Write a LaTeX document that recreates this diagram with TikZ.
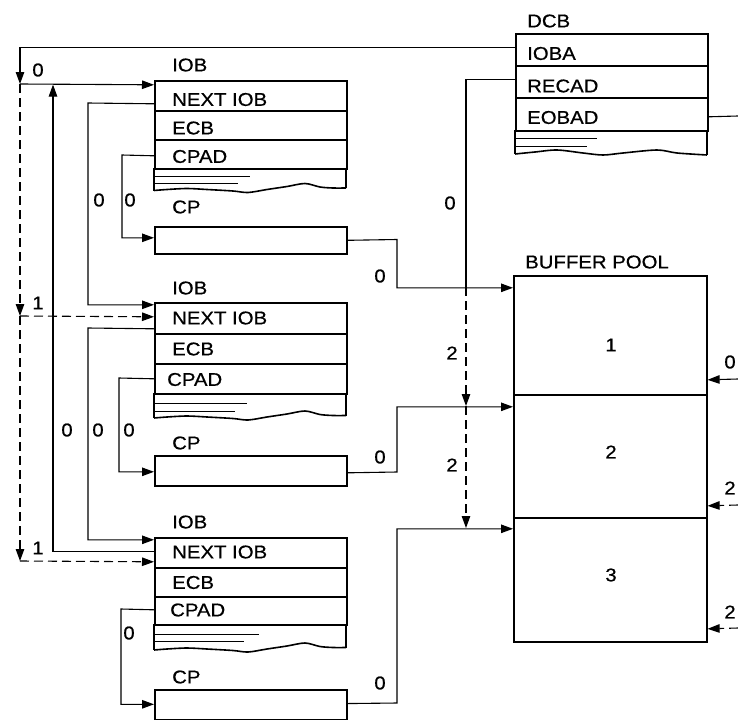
\documentclass[tikz,border=0pt]{standalone}
\usepackage{fontspec}
\setmainfont{Liberation Sans}[FakeStretch=1.1,FakeBold=0.6]
\usetikzlibrary{arrows.meta}
\begin{document}
\begin{tikzpicture}[x=1pt,y=-1pt,
  txt/.style={font=\fontsize{18.5}{21}\selectfont, inner sep=0pt},
  lbl/.style={txt, anchor=west},
  row/.style={draw, line width=1.6pt, minimum width=192pt, inner sep=0pt, anchor=north west},
  conn/.style={line width=1.1pt},
  dconn/.style={line width=1.1pt, dash pattern=on 9pt off 5pt},
  tip/.style={-{Triangle[length=12pt,width=8.5pt]}},
  thin/.style={line width=0.9pt},
  edge/.style={line width=1.6pt}]
\useasboundingbox (0,0) rectangle (738,720);

% ---------- IOB 1 ----------
\node[lbl] (h1) at (172,65) {IOB};
\node[row, minimum height=30pt] (iob1n) at (154,80) {};
\node[row, minimum height=29pt] (iob1e) at (154,110) {};
\node[row, minimum height=29pt] (iob1c) at (154,139) {};
\node[lbl] (t1n) at (172,99.5) {NEXT IOB};
\node[lbl] (t1e) at (172,128) {ECB};
\node[lbl] (t1c) at (172,156.5) {CPAD};
\draw[edge] (154,168) -- (154,190.5);
\draw[edge] (346,168) -- (346,188);
\begin{scope}[shift={(154,190.5)}]
\draw[edge] plot[smooth] coordinates {(0,0) (13,-1) (33,-2) (53,-1) (79,0.5) (94,2) (113,-1) (133,-4) (151,-7) (166,-3.5) (179,-2.5) (192,-2.5)};
\end{scope}
\draw[thin] (154,176.7) -- (250,176.7);
\draw[thin] (154,183.3) -- (238,183.3);
\node[lbl] (c1) at (172,207) {CP};
\node[row, minimum height=27pt] (cp1) at (154,226) {};

% ---------- IOB 2 ----------
\node[lbl] (h2) at (172,288) {IOB};
\node[row, minimum height=31pt] (iob2n) at (154,302) {};
\node[row, minimum height=30pt] (iob2e) at (154,333) {};
\node[row, minimum height=30pt] (iob2c) at (154,363) {};
\node[lbl] (t2n) at (172,318) {NEXT IOB};
\node[lbl] (t2e) at (172,349) {ECB};
\node[lbl] (t2c) at (167,379.5) {CPAD};
\draw[edge] (154,393) -- (154,418);
\draw[edge] (346,393) -- (346,415.5);
\begin{scope}[shift={(154,418)}]
\draw[edge] plot[smooth] coordinates {(0,0) (13,-1) (33,-2) (53,-1) (79,0.5) (94,2) (113,-1) (133,-4) (151,-7) (166,-3.5) (179,-2.5) (192,-2.5)};
\end{scope}
\draw[thin] (154,403.3) -- (247,403.3);
\draw[thin] (154,411.7) -- (235,411.7);
\node[lbl] (c2) at (172,443) {CP};
\node[row, minimum height=30pt] (cp2) at (154,455) {};

% ---------- IOB 3 ----------
\node[lbl] (h3) at (172,522) {IOB};
\node[row, minimum height=30pt] (iob3n) at (154,537) {};
\node[row, minimum height=29pt] (iob3e) at (154,567) {};
\node[row, minimum height=28pt] (iob3c) at (154,596) {};
\node[lbl] (t3n) at (172,552) {NEXT IOB};
\node[lbl] (t3e) at (172,582.5) {ECB};
\node[lbl] (t3c) at (170,610) {CPAD};
\draw[edge] (154,624) -- (154,650);
\draw[edge] (346,624) -- (346,647.5);
\begin{scope}[shift={(154,650)}]
\draw[edge] plot[smooth] coordinates {(0,0) (13,-1) (33,-2) (53,-1) (79,0.5) (94,2) (113,-1) (133,-4) (151,-7) (166,-3.5) (179,-2.5) (192,-2.5)};
\end{scope}
\draw[thin] (154,634) -- (259,634);
\draw[thin] (154,641) -- (244,641);
\node[lbl] (c3) at (172,677) {CP};
\node[row, minimum height=29.5pt] (cp3) at (154,689) {};

% ---------- DCB ----------
\node[lbl] (hd) at (527,21) {DCB};
\node[row, minimum height=32pt] (dcb1) at (515,33) {};
\node[row, minimum height=32pt] (dcb2) at (515,65) {};
\node[row, minimum height=33pt] (dcb3) at (515,97) {};
\node[lbl] (td1) at (527,53.5) {IOBA};
\node[lbl] (td2) at (527,86) {RECAD};
\node[lbl] (td3) at (527,117.5) {EOBAD};
\draw[edge] (515,130) -- (515,154);
\draw[edge] (707,130) -- (707,155);
\begin{scope}[shift={(515,154)}]
\draw[edge] plot[smooth] coordinates {(0,0) (20,-2) (42,-4) (68,-1) (88,1) (108,-1) (142,-4) (162,-1) (192,1)};
\end{scope}
\draw[thin] (515,138.3) -- (597,138.3);
\draw[thin] (515,146.7) -- (587,146.7);

% ---------- BUFFER POOL ----------
\node[lbl] (hb) at (525,262) {BUFFER POOL};
\node[row, minimum width=193pt, minimum height=119pt] (buf1) at (513,275) {};
\node[row, minimum width=193pt, minimum height=123pt] (buf2) at (513,394) {};
\node[row, minimum width=193pt, minimum height=124pt] (buf3) at (513,517) {};
\node[txt] (b1) at (611,345) {1};
\node[txt] (b2) at (611,452) {2};
\node[txt] (b3) at (611,575) {3};

% ---------- junction coordinates ----------
\coordinate (j0) at (20,84);
\coordinate (j1) at (20,316);
\coordinate (j2) at (20,561);
\coordinate (r0) at (466,287);
\coordinate (r1) at (466,406);
\coordinate (r2) at (466,528);
\coordinate (e0) at (738,116);
\coordinate (q1) at (738,379);
\coordinate (q2) at (738,505);
\coordinate (q3) at (738,628);

% ---------- connectors ----------
\draw[conn,tip] ([yshift=2pt]dcb1.west) -| (j0);
\draw[conn,tip] (j0) -- ([yshift=11pt]iob1n.west);
\draw[conn,tip] ([yshift=1pt]iob3n.west) -| (53,84.6);
\draw[conn,tip] ([yshift=-8pt]iob1n.west) -- (88,103) |- ([yshift=13.5pt]iob2n.west);
\draw[conn,tip] ([yshift=-10.5pt]iob2n.west) -- (88,328) |- ([yshift=13pt]iob3n.west);
\draw[conn,tip] ([yshift=-1.5pt]iob1c.west) -- (122,155) |- ([yshift=2.5pt]cp1.west);
\draw[conn,tip] (iob2c.west) -- (119,378) |- ([yshift=-1pt]cp2.west);
\draw[conn,tip] ([yshift=1pt]iob3c.west) -- (121,609) |- ([yshift=0.25pt]cp3.west);
\draw[conn,tip] (cp1.east) -- (397,239.5) |- ([yshift=47.5pt]buf1.west);
\draw[conn,tip] ([yshift=-2pt]cp2.east) -- (397,472) |- ([yshift=49.5pt]buf2.west);
\draw[conn,tip] ([yshift=1pt]cp3.east) -- (397,703) |- ([yshift=51pt]buf3.west);
\draw[conn] ([yshift=2pt]dcb2.west) -| (r0);
\draw[dconn,tip] (r0) -- (r1);
\draw[dconn,tip] (r1) -- (r2);
\draw[dconn,tip] (j0) -- (j1);
\draw[dconn,tip] (j1) -- ([yshift=1.5pt]iob2n.west);
\draw[dconn,tip] (j1) -- (j2);
\draw[dconn,tip] (j2) -- ([yshift=-9pt]iob3n.west);
\draw[conn] ([yshift=-2.5pt]dcb3.east) -- (e0);
\draw[conn,tip] (q1) -- ([yshift=-44.5pt]buf1.east);
\draw[dconn,tip] (q2) -- ([yshift=-49.5pt]buf2.east);
\draw[dconn,tip] (q3) -- ([yshift=-49pt]buf3.east);

% ---------- connector labels ----------
\node[txt] (l0a) at (38,70) {0};
\node[txt] (l1a) at (38,303) {1};
\node[txt] (l1b) at (38,548) {1};
\node[txt] (l0b) at (99,200) {0};
\node[txt] (l0c) at (130,200) {0};
\node[txt] (l0d) at (67,430) {0};
\node[txt] (l0e) at (98,430) {0};
\node[txt] (l0f) at (129,430) {0};
\node[txt] (l0g) at (129,633) {0};
\node[txt] (l0h) at (450,203) {0};
\node[txt] (l0i) at (380,276) {0};
\node[txt] (l0j) at (380,457) {0};
\node[txt] (l0k) at (380,683) {0};
\node[txt] (l2a) at (452,353) {2};
\node[txt] (l2b) at (452,465) {2};
\node[txt] (l0r) at (730,362) {0};
\node[txt] (l2r) at (730,488) {2};
\node[txt] (l2s) at (730,612) {2};
\end{tikzpicture}
\end{document}
